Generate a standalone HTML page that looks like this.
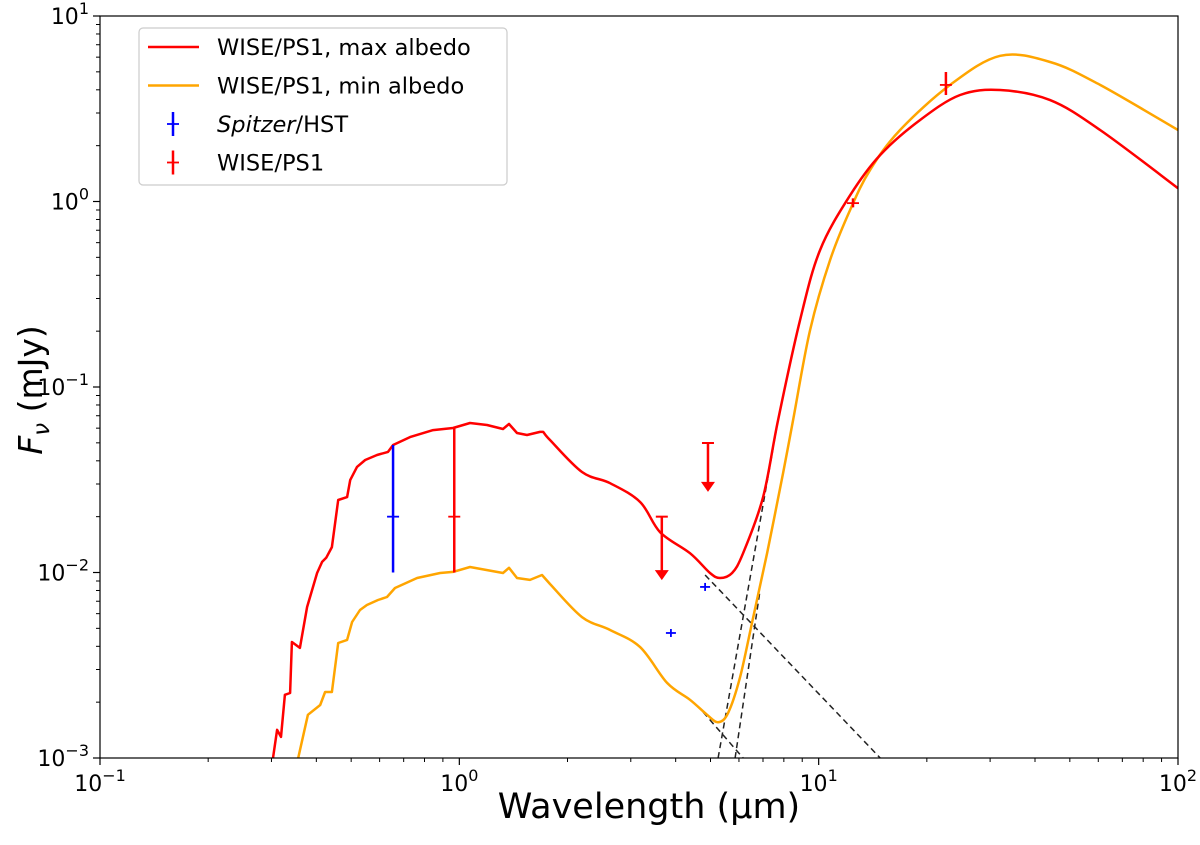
<!DOCTYPE html>
<html><head><meta charset="utf-8"><style>
body{margin:0;background:#fff;}
svg{display:block;font-family:"DejaVu Sans","Liberation Sans",sans-serif;}
</style></head><body>
<svg id="chart" width="1200" height="845" viewBox="0 0 1200 845" xmlns="http://www.w3.org/2000/svg">
<g id="plot"></g>
<g id="axes"></g>
<g id="legend"></g>
</svg>
<script>
// ---- data ----
const redWave=[0.303,0.311,0.319,0.327,0.338,0.342,0.360,0.377,0.402,0.415,0.426,0.442,0.460,0.487,0.497,0.519,0.547,0.590,0.633,0.654,0.729,0.845,0.960,1.071,1.194,1.323,1.375,1.447,1.543,1.677,1.710,1.788,2.195,2.627,3.185,3.620,4.386,4.985,5.315,5.741,6.161,7.003,7.709,8.88,10.09,12.23,14.83,19.15,24.75,31.98,44.06,60.71,100];
const redFlux=[0.001,0.00142,0.00130,0.00219,0.00224,0.00422,0.00392,0.00652,0.00994,0.0114,0.0120,0.0137,0.0246,0.0255,0.0315,0.0371,0.0404,0.0430,0.0447,0.0487,0.0537,0.0586,0.0601,0.0640,0.0624,0.0594,0.0632,0.0565,0.0551,0.0573,0.0573,0.0518,0.0348,0.0303,0.0240,0.0165,0.0127,0.00994,0.00934,0.00994,0.0127,0.0255,0.0664,0.230,0.548,1.08,1.78,2.75,3.75,3.99,3.52,2.43,1.18];
const oraWave=[0.356,0.379,0.410,0.423,0.442,0.460,0.487,0.503,0.529,0.553,0.594,0.629,0.662,0.763,0.884,0.960,1.071,1.323,1.375,1.447,1.573,1.699,1.788,2.195,2.627,3.185,3.786,4.386,4.891,5.248,5.598,6.043,6.525,7.185,7.961,8.490,9.466,10.76,12.23,13.90,16.85,23.22,32.0,44.06,60.71,100];
const oraFlux=[0.001,0.00171,0.00193,0.00227,0.00227,0.00417,0.00433,0.00541,0.00628,0.00668,0.00711,0.00738,0.00825,0.00934,0.00994,0.01007,0.0107,0.00994,0.0106,0.00934,0.00912,0.00970,0.00867,0.00575,0.00490,0.00396,0.00254,0.00206,0.00171,0.00156,0.00175,0.00273,0.00535,0.0127,0.0344,0.0664,0.203,0.484,0.900,1.48,2.43,4.25,6.1,5.65,4.25,2.43];
const dashWave=[[4.83,14.83],[4.77,6.16],[5.248,7.709],[5.855,6.87]];
const dashFlux=[[0.00970,0.001],[0.00177,0.001],[0.001,0.0664],[0.001,0.00805]];
const blueErrWave=[0.654];
const blueErrVal=[0.02];
const blueErrLo=[0.01];
const blueErrHi=[0.0487];
const blueWave=[4.83,3.88];
const blueFlux=[0.00836,0.00472];
const redErrWave=[0.968,12.46,22.6];
const redErrVal=[0.02,0.98,4.25];
const redErrLo=[0.01,0.93,3.75];
const redErrHi=[0.06,1.04,4.99];
const limWave=[3.66,4.92];
const limTop=[0.02,0.0499];
const limTip=[0.0091,0.0272];
const xTicks=[-1,0,1,2];
const yTicks=[-3,-2,-1,0,1];
// ---- axes ----
const X0=100,X1=1178,Y0=758,Y1=16;
const xs=v=>X0+(Math.log10(v)+1)/3*(X1-X0);
const ys=v=>Y0-(Math.log10(v)+3)/4*(Y0-Y1);
const NS="http://www.w3.org/2000/svg";
function mk(tag,attrs,parent){const e=document.createElementNS(NS,tag);for(const k in attrs)e.setAttribute(k,attrs[k]);parent.appendChild(e);return e;}
const plot=document.getElementById('plot'),axes=document.getElementById('axes'),leg=document.getElementById('legend');
function pathOf(w,f){return w.map((v,i)=>(i?'L':'M')+xs(v).toFixed(1)+','+ys(f[i]).toFixed(1)).join(' ');}
function smoothPath(w,f,smoothFrom){
 const P=w.map((v,i)=>[xs(v),ys(f[i])]);
 let d='M'+P[0][0].toFixed(1)+','+P[0][1].toFixed(1);
 for(let i=1;i<P.length;i++){
  if(w[i-1]<smoothFrom){d+=' L'+P[i][0].toFixed(1)+','+P[i][1].toFixed(1);continue;}
  const p0=P[Math.max(i-2,0)],p1=P[i-1],p2=P[i],p3=P[Math.min(i+1,P.length-1)];
  const c1=[p1[0]+(p2[0]-p0[0])/6,p1[1]+(p2[1]-p0[1])/6];
  const c2=[p2[0]-(p3[0]-p1[0])/6,p2[1]-(p3[1]-p1[1])/6];
  d+=' C'+c1[0].toFixed(1)+','+c1[1].toFixed(1)+' '+c2[0].toFixed(1)+','+c2[1].toFixed(1)+' '+p2[0].toFixed(1)+','+p2[1].toFixed(1);
 }
 return d;
}
const cp=mk('clipPath',{id:'cp'},plot);mk('rect',{x:X0,y:Y1,width:X1-X0,height:Y0-Y1},cp);
const g=mk('g',{'clip-path':'url(#cp)'},plot);
for(let i=0;i<dashWave.length;i++){
 const d=mk('path',{d:pathOf(dashWave[i],dashFlux[i]),fill:'none',stroke:'#222','stroke-width':1.5,'stroke-dasharray':'6,4'},g);
 
 
}
const po=mk('path',{d:smoothPath(oraWave,oraFlux,1.7),fill:'none',stroke:'#ffa500','stroke-width':2.5,'stroke-linejoin':'round'},g);


const pr=mk('path',{d:smoothPath(redWave,redFlux,1.7),fill:'none',stroke:'#ff0000','stroke-width':2.5,'stroke-linejoin':'round'},g);


function errbar(w,v,lo,hi,col,name){
 const gg=mk('g',{},g);
 
 
 const x=xs(w);
 mk('line',{x1:x,x2:x,y1:ys(lo),y2:ys(hi),stroke:col,'stroke-width':2.5},gg);
 mk('line',{x1:x-6,x2:x+6,y1:ys(v),y2:ys(v),stroke:col,'stroke-width':1.8},gg);
}
blueErrWave.forEach((w,i)=>errbar(w,blueErrVal[i],blueErrLo[i],blueErrHi[i],'#0000ff','spitzer-errorbar-'+i));
redErrWave.forEach((w,i)=>errbar(w,redErrVal[i],redErrLo[i],redErrHi[i],'#ff0000','wise-errorbar-'+i));
blueWave.forEach((w,i)=>{
 const gg=mk('g',{},g);
 
 
 const x=xs(w),y=ys(blueFlux[i]);
 mk('line',{x1:x-5,x2:x+5,y1:y,y2:y,stroke:'#0000ff','stroke-width':1.8},gg);
 mk('line',{x1:x,x2:x,y1:y-4,y2:y+4,stroke:'#0000ff','stroke-width':1.8},gg);
});
limWave.forEach((w,i)=>{
 const gg=mk('g',{},g);
 
 
 const x=xs(w),yt=ys(limTop[i]),yb=ys(limTip[i]);
 mk('line',{x1:x-6,x2:x+6,y1:yt,y2:yt,stroke:'#ff0000','stroke-width':2},gg);
 mk('line',{x1:x,x2:x,y1:yt,y2:yb-8,stroke:'#ff0000','stroke-width':2.5},gg);
 mk('polygon',{points:`${x-7},${yb-10} ${x+7},${yb-10} ${x},${yb}`,fill:'#ff0000'},gg);
});
mk('rect',{x:X0,y:Y1,width:X1-X0,height:Y0-Y1,fill:'none',stroke:'#000','stroke-width':1.2},axes);
xTicks.forEach(e=>{
 const x=xs(Math.pow(10,e));
 mk('line',{x1:x,x2:x,y1:Y0,y2:Y0+7,stroke:'#000','stroke-width':1.2},axes);
 const t=mk('text',{x:x,y:Y0+33,'font-size':22,'text-anchor':'middle'},axes);
 
 
 t.innerHTML='10<tspan dy="-10" font-size="16">'+(e<0?'\u2212'+(-e):e)+'</tspan>';
 if(e<2)for(let m=2;m<10;m++){const xm=xs(m*Math.pow(10,e));mk('line',{x1:xm,x2:xm,y1:Y0,y2:Y0+4,stroke:'#000','stroke-width':1},axes);}
});
yTicks.forEach(e=>{
 const y=ys(Math.pow(10,e));
 mk('line',{x1:X0-7,x2:X0,y1:y,y2:y,stroke:'#000','stroke-width':1.2},axes);
 const t=mk('text',{x:X0-11,y:y+8,'font-size':22,'text-anchor':'end'},axes);
 
 
 t.innerHTML='10<tspan dy="-10" font-size="16">'+(e<0?'\u2212'+(-e):e)+'</tspan>';
 if(e<1)for(let m=2;m<10;m++){const ym=ys(m*Math.pow(10,e));mk('line',{x1:X0-4,x2:X0,y1:ym,y2:ym,stroke:'#000','stroke-width':1},axes);}
});
const xl=mk('text',{x:649,y:818,'font-size':35,'text-anchor':'middle'},axes);


xl.textContent='Wavelength (\u03bcm)';
const yl=mk('text',{x:0,y:0,'font-size':33,'text-anchor':'middle',transform:'translate(42,390) rotate(-90)'},axes);


yl.innerHTML='<tspan font-style="italic">F</tspan><tspan font-style="italic" font-size="23" dy="7">\u03bd</tspan><tspan dy="-7"> (mJy)</tspan>';
mk('rect',{x:139,y:28,width:368,height:157,rx:4,fill:'#fff',stroke:'#ccc','stroke-width':1.2},leg);
const items=[['line','#ff0000','WISE/PS1, max albedo'],['line','#ffa500','WISE/PS1, min albedo'],['err','#0000ff','Spitzer/HST'],['err','#ff0000','WISE/PS1']];
items.forEach((it,i)=>{
 const y=47+i*38.5;
 const gg=mk('g',{},leg);
 
 
 if(it[0]==='line')mk('line',{x1:148,x2:199,y1:y,y2:y,stroke:it[1],'stroke-width':2.5},gg);
 else{mk('line',{x1:173,x2:173,y1:y-12,y2:y+12,stroke:it[1],'stroke-width':2.5},gg);mk('line',{x1:167,x2:179,y1:y,y2:y,stroke:it[1],'stroke-width':1.8},gg);}
 const t=mk('text',{x:217,y:y+8,'font-size':22.5},gg);
 if(i===2)t.innerHTML='<tspan font-style="italic">Spitzer</tspan>/HST';else t.textContent=it[2];
});
</script>
</body></html>
